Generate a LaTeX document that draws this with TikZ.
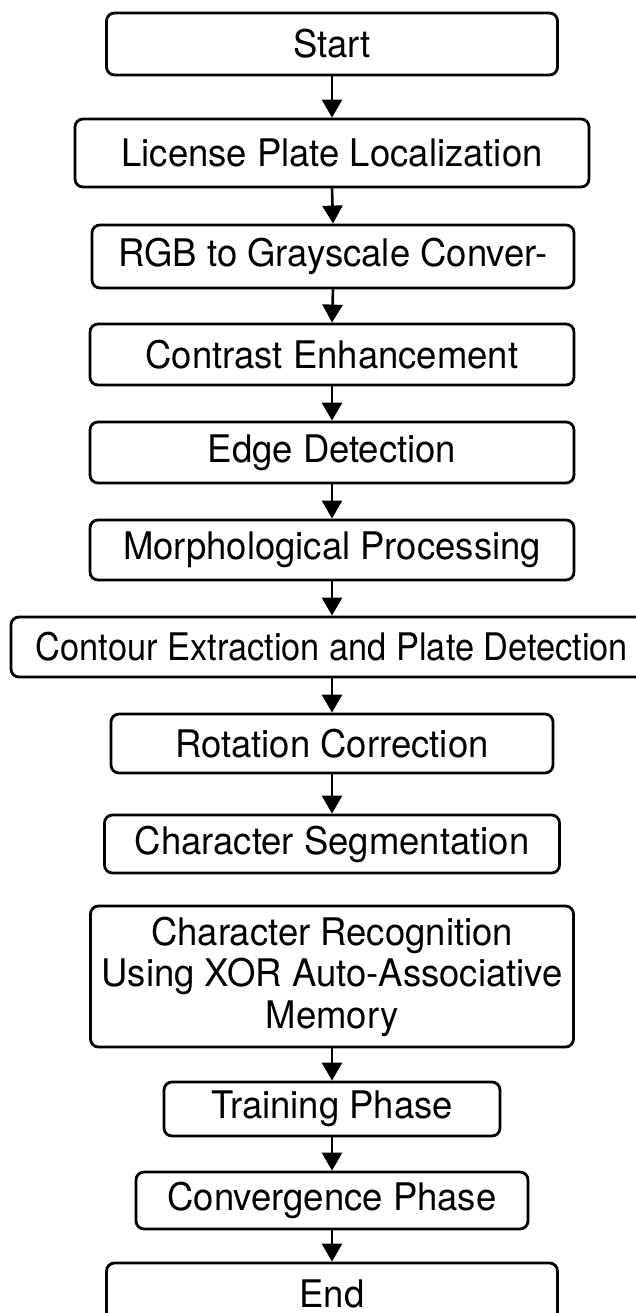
\documentclass[tikz,border=0pt]{standalone}
\usepackage{fontspec}
\usepackage{graphicx}
\setmainfont{TeX Gyre Heros}[FakeStretch=0.96]
\usetikzlibrary{arrows.meta}
\tikzset{
  stepbox/.style={draw=black, line width=2.8pt, rounded corners=8pt, fill=white,
    inner sep=0pt, align=center, font=\fontsize{38}{41.5}\selectfont},
  flowarrow/.style={line width=2.6pt, -{Triangle[width=20pt,length=18pt]}}
}
\begin{document}
\begin{tikzpicture}[x=1pt,y=1pt]
\useasboundingbox (0,0) rectangle (636,-1313);
\clip (0,0) rectangle (636,-1313);
\fill[white] (0,0) rectangle (636,-1313);
\node[stepbox, minimum width=451, minimum height=62] (start) at (332,-44) {Start};
\node[stepbox, minimum width=514, minimum height=68] (lpl) at (332,-153) {License Plate Localization};
\node[stepbox, minimum width=482, minimum height=63] (rgb) at (333,-256.5) {RGB to Grayscale Conver-};
\node[stepbox, minimum width=484, minimum height=61] (ce) at (332,-354.5) {Contrast Enhancement};
\node[stepbox, minimum width=484, minimum height=61] (ed) at (332,-452.5) {Edge Detection};
\node[stepbox, minimum width=484, minimum height=60] (mp) at (332,-550) {Morphological Processing};
\node[stepbox, minimum width=642, minimum height=60] (cepd) at (332,-647) {\scalebox{0.942}[1]{Contour Extraction and Plate Detection}};
\node[stepbox, minimum width=442, minimum height=59] (rc) at (332,-743.5) {Rotation Correction};
\node[stepbox, minimum width=455, minimum height=58] (cs) at (332,-844) {Character Segmentation};
\node[stepbox, minimum width=483, minimum height=141] (cr) at (332,-976.5) {Character Recognition\\Using XOR Auto-Associative\\Memory};
\node[stepbox, minimum width=336, minimum height=54] (tp) at (332,-1109) {Training Phase};
\node[stepbox, minimum width=392, minimum height=57] (cp) at (332,-1200.5) {Convergence Phase};
\node[stepbox, minimum width=451, minimum height=62] (en) at (332,-1294) {End};
\draw[flowarrow] (start.south) -- (lpl.north);
\draw[flowarrow] (lpl.south) -- (rgb.north);
\draw[flowarrow] (rgb.south) -- (ce.north);
\draw[flowarrow] (ce.south) -- (ed.north);
\draw[flowarrow] (ed.south) -- (mp.north);
\draw[flowarrow] (mp.south) -- (cepd.north);
\draw[flowarrow] (cepd.south) -- (rc.north);
\draw[flowarrow] (rc.south) -- (cs.north);
\draw[flowarrow] (cr.south) -- (tp.north);
\draw[flowarrow] (tp.south) -- (cp.north);
\draw[flowarrow] (cp.south) -- (en.north);
\end{tikzpicture}
\end{document}
